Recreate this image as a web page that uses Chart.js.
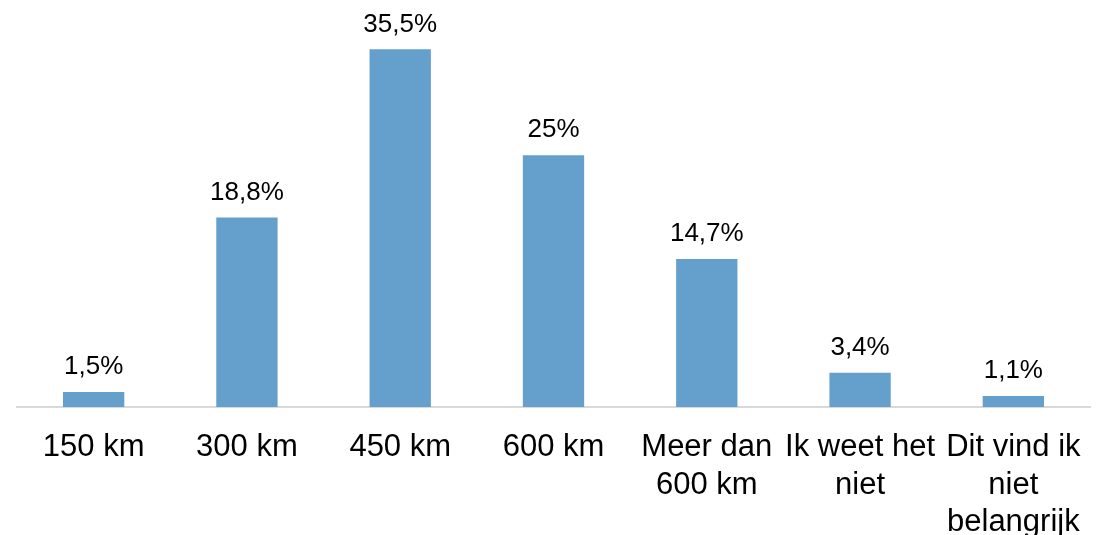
<!DOCTYPE html>
<html>
<head>
<meta charset="utf-8">
<script src="https://cdn.jsdelivr.net/npm/chart.js@4"></script>
<style>
  html, body { margin: 0; padding: 0; background: #fff; }
  #wrap { width: 1099px; height: 535px; }
</style>
</head>
<body>
<div id="wrap"><canvas id="afstandChart"></canvas></div>
<script>
// categorieën en percentages
const categories = [
    '150 km', '300 km', '450 km', '600 km',
    ['Meer dan', '600 km'], ['Ik weet het', 'niet'], ['Dit vind ik', 'niet', 'belangrijk']
];
const percentages = [1.5, 18.8, 35.5, 25, 14.7, 3.4, 1.1];
const valueLabels = ['1,5%', '18,8%', '35,5%', '25%', '14,7%', '3,4%', '1,1%'];

// labels boven de balken
const barLabels = {
    id: 'barLabels',
    afterDatasetsDraw(chart) {
        const ctx = chart.ctx;
        const meta = chart.getDatasetMeta(0);
        ctx.save();
        ctx.font = '26px "Liberation Sans", Arial, sans-serif';
        ctx.fillStyle = '#000';
        ctx.textAlign = 'center';
        ctx.textBaseline = 'middle';
        meta.data.forEach((bar, i) => {
            ctx.fillText(valueLabels[i], bar.x, bar.y - 25);
        });
        ctx.restore();
    }
};

const ctx = document.getElementById('afstandChart').getContext('2d');
new Chart(ctx, {
    type: 'bar',
    data: {
        labels: categories,
        datasets: [{
            data: percentages,
            backgroundColor: '#659fcb',
            categoryPercentage: 1,
            barPercentage: 0.4
        }]
    },
    options: {
        responsive: true,
        maintainAspectRatio: false,
        animation: false,
        layout: { padding: { left: 17, right: 9, top: 4, bottom: 0 } },
        plugins: {
            legend: { display: false },
            tooltip: { enabled: false }
        },
        scales: {
            y: {
                display: false,
                min: 0,
                max: 40
            },
            x: {
                grid: { display: false },
                border: { display: true, color: '#d9d9d9', width: 2 },
                afterFit: (scale) => { scale.height = 128; },
                ticks: {
                    color: '#000',
                    padding: 14,
                    maxRotation: 0,
                    autoSkip: false,
                    font: { family: '"Liberation Sans", Arial, sans-serif', size: 31, lineHeight: 1.21 }
                }
            }
        }
    },
    plugins: [barLabels]
});
</script>
</body>
</html>
